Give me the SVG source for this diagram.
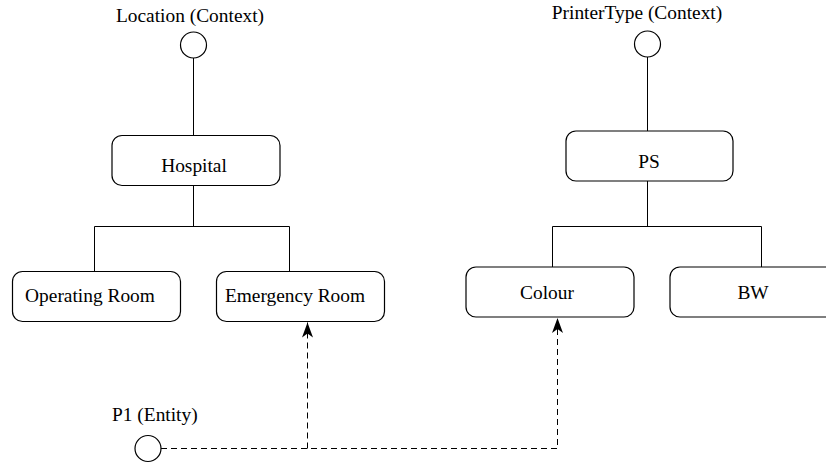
<svg xmlns="http://www.w3.org/2000/svg" width="826" height="464" viewBox="0 0 826 464">
  <style>
    text { font-family: "Liberation Serif", "Times New Roman", serif; font-size: 19.4px; fill: #000; }
    .box { fill: #fff; stroke: #000; stroke-width: 1.2; }
    .ctx { fill: #fff; stroke: #000; stroke-width: 1.2; }
    .tree { fill: none; stroke: #000; stroke-width: 1; }
    .dep { fill: none; stroke: #000; stroke-width: 1; stroke-dasharray: 6 4; }
  </style>
  <defs>
    <marker id="arrow" viewBox="0 0 16 12" refX="15" refY="6" markerWidth="16" markerHeight="12" markerUnits="userSpaceOnUse" orient="auto">
      <path d="M0,0.5 L15,6 L0,11.5 L4,6 Z" fill="#000"/>
    </marker>
  </defs>

  <rect width="826" height="464" fill="#fff"/>

  <!-- connectors -->
  <g id="connectors">
    <path class="tree" d="M193.5,58 V135"/>
    <path class="tree" d="M193.5,185 V226.5 M94.5,271 V226.5 H289.5 V271"/>
    <path class="tree" d="M647.5,57 V131"/>
    <path class="tree" d="M647.5,181 V226.5 M552.5,267 V226.5 H761.5 V267"/>
    <path class="dep" d="M161,448.5 H557.5 V318" marker-end="url(#arrow)"/>
    <path class="dep" d="M307.5,448.5 V322.5" marker-end="url(#arrow)"/>
  </g>

  <!-- Location context -->
  <g id="location">
    <text x="190" y="22" text-anchor="middle">Location (Context)</text>
    <circle class="ctx" cx="193.5" cy="45" r="13"/>
  </g>
  <g id="hospital">
    <rect class="box" x="112" y="135.5" width="168" height="50" rx="10"/>
    <text x="194" y="172" text-anchor="middle">Hospital</text>
  </g>
  <g id="operating-room">
    <rect class="box" x="12.5" y="271.5" width="168" height="50" rx="10"/>
    <text x="90" y="302" text-anchor="middle">Operating Room</text>
  </g>
  <g id="emergency-room">
    <rect class="box" x="216.5" y="271.5" width="168" height="50" rx="10"/>
    <text x="295" y="302" text-anchor="middle">Emergency Room</text>
  </g>

  <!-- PrinterType context -->
  <g id="printertype">
    <text x="637" y="19" text-anchor="middle">PrinterType (Context)</text>
    <circle class="ctx" cx="647.5" cy="44" r="13"/>
  </g>
  <g id="ps">
    <rect class="box" x="566" y="131" width="167" height="50" rx="10"/>
    <text x="649" y="168" text-anchor="middle">PS</text>
  </g>
  <g id="colour">
    <rect class="box" x="466" y="267" width="168" height="50" rx="10"/>
    <text x="547" y="299" text-anchor="middle">Colour</text>
  </g>
  <g id="bw">
    <rect class="box" x="670" y="267" width="168" height="50" rx="10"/>
    <text x="753" y="299" text-anchor="middle">BW</text>
  </g>

  <!-- P1 entity -->
  <g id="p1">
    <text x="112" y="421">P1 (Entity)</text>
    <circle class="ctx" cx="148" cy="448.5" r="13"/>
  </g>
</svg>
